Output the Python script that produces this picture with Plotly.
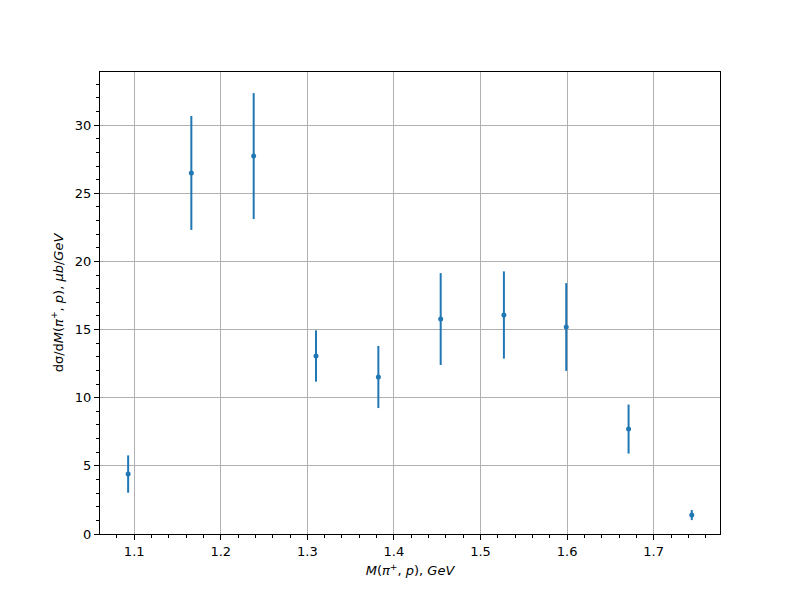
import plotly.graph_objects as go

mass = [1.093, 1.166, 1.238, 1.310, 1.382, 1.454, 1.527, 1.599, 1.671, 1.744]
xsec = [4.40, 26.49, 27.73, 13.06, 11.52, 15.77, 16.07, 15.19, 7.70, 1.39]
xsec_err = [1.37, 4.18, 4.62, 1.88, 2.28, 3.37, 3.20, 3.22, 1.80, 0.37]

x_ticks = [1.1, 1.2, 1.3, 1.4, 1.5, 1.6, 1.7]
y_ticks = [0, 5, 10, 15, 20, 25, 30]

color = "#1f77b4"
font = "DejaVu Sans"

fig = go.Figure()
fig.add_trace(go.Scatter(
    x=mass, y=xsec, mode="markers",
    marker=dict(color=color, size=5),
    error_y=dict(type="data", array=xsec_err, visible=True, color=color,
                 thickness=2, width=0),
    showlegend=False,
))

axis_common = dict(
    showline=True, linecolor="black", linewidth=1, mirror=True,
    ticks="outside", ticklen=5, tickwidth=1, tickcolor="black",
    showgrid=True, gridcolor="#b0b0b0", gridwidth=1,
    zeroline=False,
    tickfont=dict(family=font, size=13, color="black"),
)

fig.update_layout(
    width=800, height=600,
    margin=dict(l=92, r=88, t=64, b=74),
    plot_bgcolor="white", paper_bgcolor="white",
    font=dict(family=font, size=13, color="black"),
    xaxis=dict(
        range=[1.0605, 1.7766], tickvals=x_ticks,
        ticktext=[f"{v:.1f}" for v in x_ticks],
        minor=dict(dtick=0.02, tick0=1.0, ticks="outside", ticklen=3,
                   tickcolor="black", showgrid=False),
        title=dict(text="<i>M</i>(<i>π</i><sup>+</sup>, <i>p</i>), <i>GeV</i>",
                   font=dict(family=font, size=13), standoff=8),
        **axis_common,
    ),
    yaxis=dict(
        range=[0, 33.9], tickvals=y_ticks,
        ticktext=[str(v) for v in y_ticks],
        minor=dict(dtick=1, tick0=0, ticks="outside", ticklen=3,
                   tickcolor="black", showgrid=False),
        title=dict(text="dσ/d<i>M</i>(<i>π</i><sup>+</sup>, <i>p</i>), <i>μb</i>/<i>GeV</i>",
                   font=dict(family=font, size=13), standoff=8),
        **axis_common,
    ),
)

fig.write_html("out.html")
